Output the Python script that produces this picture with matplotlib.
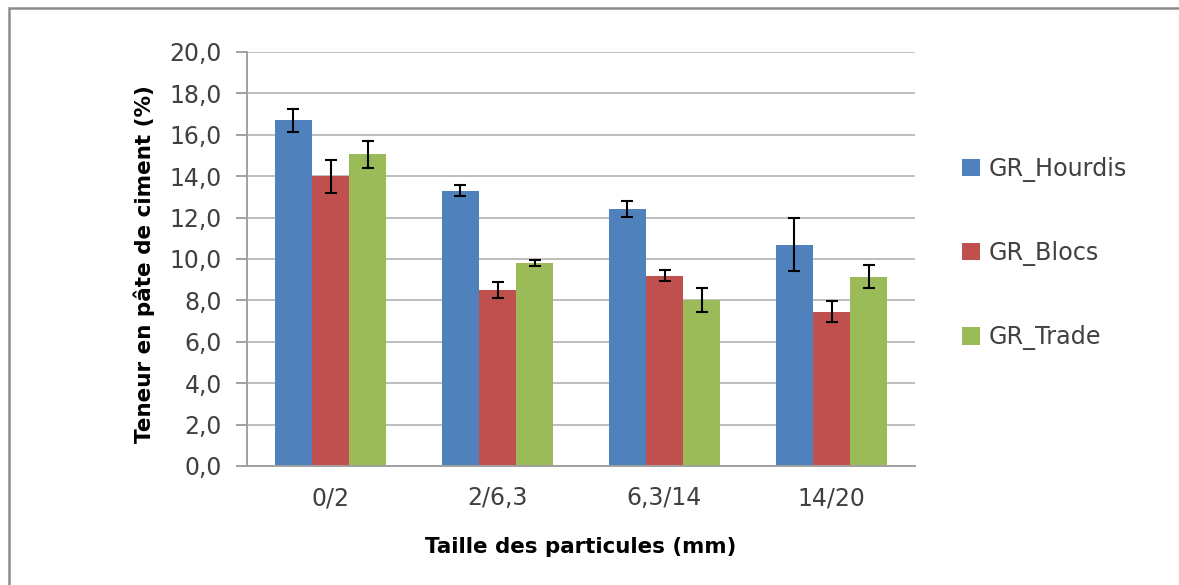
import matplotlib
matplotlib.use("Agg")
import matplotlib.pyplot as plt
import numpy as np
from matplotlib.patches import Rectangle

categories = ["0/2", "2/6,3", "6,3/14", "14/20"]
series_names = ["GR_Hourdis", "GR_Blocs", "GR_Trade"]
hourdis = [16.7, 13.3, 12.4, 10.7]
blocs = [14.0, 8.5, 9.2, 7.45]
trade = [15.05, 9.8, 8.0, 9.15]
hourdis_err = [0.55, 0.26, 0.38, 1.3]
blocs_err = [0.8, 0.4, 0.27, 0.5]
trade_err = [0.65, 0.15, 0.58, 0.57]
colors = ["#4F81BD", "#C0504D", "#9BBB59"]
yticks = [0, 2, 4, 6, 8, 10, 12, 14, 16, 18, 20]
ylabel = "Teneur en pâte de ciment (%)"
xlabel = "Taille des particules (mm)"

plt.rcParams['font.family'] = ['DejaVu Sans']

W, H = 1179, 585
fig = plt.figure(figsize=(W / 100, H / 100), dpi=100)
fig.patch.set_facecolor("white")
renderer = fig.canvas.get_renderer()


def fit_size(text, target_px, weight="normal", base=14.0):
    t = fig.text(0, 0, text, fontsize=base, fontweight=weight)
    w = t.get_window_extent(renderer).width
    t.remove()
    return base * target_px / w


tick_fs = fit_size("14/20", 68)
ylab_fs = fit_size(ylabel, 360, "bold")
xlab_fs = fit_size(xlabel, 313, "bold")
leg_fs = fit_size("GR_Hourdis", 139)

# outer chart border (only left/top visible in reference)
fig.patches.append(Rectangle((9 / W, -0.1), 1.2, 1 - 8 / H + 0.1, transform=fig.transFigure,
                             fill=False, edgecolor="#8C8C8C", linewidth=1.8))

ax = fig.add_axes([247 / W, 1 - 466 / H, (915 - 247) / W, (466 - 52) / H])

x = np.arange(len(categories))
bw = 0.222
vals = [hourdis, blocs, trade]
errs = [hourdis_err, blocs_err, trade_err]
for i, (v, e, c, n) in enumerate(zip(vals, errs, colors, series_names)):
    ax.bar(x + (i - 1) * bw, v, width=bw, color=c, label=n, zorder=2)
    ax.errorbar(x + (i - 1) * bw, v, yerr=e, fmt="none", ecolor="black",
                elinewidth=1.5, capsize=4.5, capthick=1.5, zorder=3)

ax.set_xlim(-0.5, 3.5)
ax.set_ylim(0, 20)
ax.set_yticks(yticks)
ax.set_yticklabels([f"{t:.1f}".replace(".", ",") for t in yticks], fontsize=tick_fs, color="#404040")
ax.set_xticks(x)
ax.set_xticklabels(categories, fontsize=tick_fs, color="#404040")
ax.yaxis.grid(True, color="#BEBEBE", linewidth=1.4, zorder=0)
ax.set_axisbelow(True)
for s in ["top", "right"]:
    ax.spines[s].set_visible(False)
for s in ["left", "bottom"]:
    ax.spines[s].set_color("#A0A0A0")
    ax.spines[s].set_linewidth(1.4)
ax.tick_params(axis="y", length=8, width=1.4, color="#A0A0A0", pad=10)
ax.tick_params(axis="x", length=0, pad=14.5)

fig.text(144 / W, 1 - 264 / H, ylabel, rotation=90, ha="center", va="center",
         fontsize=ylab_fs, fontweight="bold", color="black")
fig.text(581 / W, 1 - 547 / H, xlabel, ha="center", va="center",
         fontsize=xlab_fs, fontweight="bold", color="black")

leg = fig.legend(loc="upper left", bbox_to_anchor=(962 / W, 1 - 157 / H), frameon=False,
                 fontsize=leg_fs, labelspacing=2.47, handlelength=0.75, handleheight=0.75,
                 handletextpad=0.35, labelcolor="#404040", borderpad=0, borderaxespad=0)

fig.savefig("out.png", dpi=100, facecolor="white")
